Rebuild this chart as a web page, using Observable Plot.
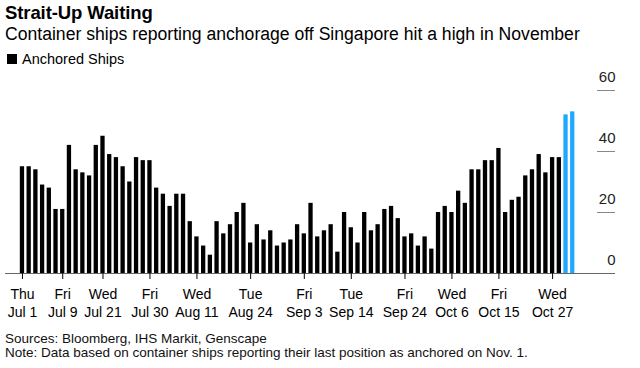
<!DOCTYPE html>
<html>
<head>
<meta charset="utf-8">
<script src="https://cdn.jsdelivr.net/npm/d3@7"></script>
<script src="https://cdn.jsdelivr.net/npm/@observablehq/plot@0.6"></script>
<style>
  html, body { margin: 0; padding: 0; background: #fff; }
  body { width: 640px; height: 368px; position: relative; overflow: hidden; font-family: "Liberation Sans", Arial, sans-serif; color: #000; }
  .t { position: absolute; left: 5px; white-space: nowrap; }
  #title { top: 3.8px; font-size: 18.5px; line-height: 18.5px; font-weight: bold; letter-spacing: -0.1px; }
  #subtitle { top: 25.7px; font-size: 17.6px; line-height: 17.6px; }
  #legend { top: 51.7px; left: 22px; font-size: 14.5px; line-height: 14.5px; }
  #swatch { position: absolute; left: 7px; top: 54px; width: 10px; height: 10px; background: #000; }
  #chart { position: absolute; left: 0; top: 68px; }
  #src { top: 332.1px; font-size: 13.5px; line-height: 13.5px; color: #111; }
  #note { top: 346.1px; font-size: 13.5px; line-height: 13.5px; color: #111; }
</style>
</head>
<body>
<div id="title" class="t">Strait-Up Waiting</div>
<div id="subtitle" class="t">Container ships reporting anchorage off Singapore hit a high in November</div>
<div id="swatch"></div>
<div id="legend" class="t">Anchored Ships</div>
<div id="chart"></div>
<div id="src" class="t">Sources: Bloomberg, IHS Markit, Genscape</div>
<div id="note" class="t">Note: Data based on container ships reporting their last position as anchored on Nov. 1.</div>
<script>
// Anchored ships per reporting day (83 reports, Jul 1 – Nov 1)
const values = [
  35,35,34,29,28,21,21,42,34,33,32,42,45,39,38,35,30,38,37,37,28,26,22,26,26,17,12,9,6,17,
  13,16,20,23,10,16,11,14,9,10,11,16,13,23,12,14,16,7,20,15,10,20,14,16,21,22,18,12,13,9,
  12,8,20,22,20,27,23,34,34,37,37,41,20,24,25,32,34,39,33,38,38,52,53
];
// Month group of each report (last two reports are November)
const groups = values.map((v, i) => i >= 81 ? "Nov" : "Jul–Oct");
// Tick positions (report index) and labels
const tickIndex = [0, 6, 12, 19, 26, 34, 42, 49, 57, 64, 71, 79];
const tickLabels = [
  "Thu\nJul 1", "Fri\nJul 9", "Wed\nJul 21", "Fri\nJul 30", "Wed\nAug 11", "Tue\nAug 24",
  "Fri\nSep 3", "Tue\nSep 14", "Fri\nSep 24", "Wed\nOct 6", "Fri\nOct 15", "Wed\nOct 27"
];
const yTicks = [0, 20, 40, 60];

const data = values.map((v, i) => ({i, v, g: groups[i]}));

const W = 640, ML = 17.4, MR = 63.2;
const frameRight = W - MR;

const chart = Plot.plot({
  width: W,
  height: 260,
  marginLeft: ML,
  marginRight: MR,
  marginTop: 22,
  marginBottom: 55,
  style: {fontFamily: "'Liberation Sans', Arial, sans-serif", fontSize: "14px", color: "#000", background: "transparent"},
  x: {type: "band", domain: d3.range(values.length), padding: 0.36, axis: null, label: null},
  y: {domain: [0, 60], axis: null, label: null},
  color: {domain: ["Jul–Oct", "Nov"], range: ["#000000", "#1fa8ff"]},
  marks: [
    Plot.barY(data, {x: "i", y: "v", fill: "g"}),
    Plot.ruleY(yTicks.filter(d => d > 0), {stroke: "#888", strokeWidth: 1, insetLeft: 597 - ML, insetRight: frameRight - 615}),
    Plot.text(yTicks, {y: d => d, text: d => String(d), frameAnchor: "right", dx: 615 - frameRight, dy: -13.5, textAnchor: "end", fontSize: 15, fill: "#222"}),
    Plot.ruleY([0], {stroke: "#666", strokeWidth: 1, insetLeft: 5 - ML, insetRight: frameRight - 615}),
    Plot.axisX(tickIndex, {
      label: null,
      tickSize: 6,
      tickPadding: 7,
      stroke: "#000",
      fill: "#000",
      fontSize: 14,
      lineHeight: 1.29,
      tickFormat: d => tickLabels[tickIndex.indexOf(d)]
    })
  ]
});
document.getElementById("chart").appendChild(chart);
</script>
</body>
</html>
